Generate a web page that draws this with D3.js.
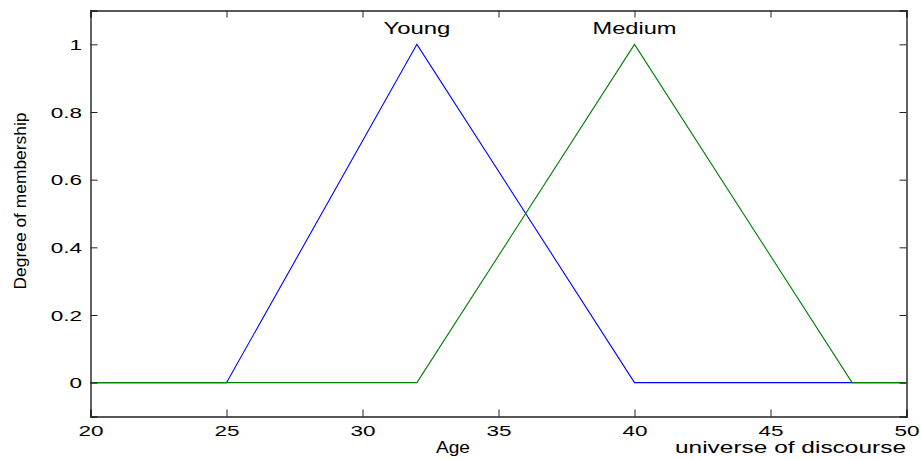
<!DOCTYPE html>
<html><head><meta charset="utf-8">
<script src="https://cdn.jsdelivr.net/npm/d3@7"></script>
<style>body{margin:0;background:#fff}svg{display:block}text{font-family:"Liberation Sans",Arial,sans-serif}</style>
</head><body><svg id="c" width="921" height="460"></svg>
<script>
const xTicks = [20,25,30,35,40,45,50];
const yTicks = [0,0.2,0.4,0.6,0.8,1];
const youngX = [20,25,32,40,50];
const youngY = [0,0,1,0,0];
const mediumX = [20,32,40,48,50];
const mediumY = [0,0,1,0,0];
const setNames = ["Young","Medium"];
const setPeaks = [32,40];

const svg = d3.select("#c");
const L=90.5,R=906.5,T=10.5,B=416.5;
const x = d3.scaleLinear().domain([20,50]).range([L,R]);
const y = d3.scaleLinear().domain([-0.1,1.1]).range([B,T]);
const SX = 1.5;

svg.append("rect").attr("x",0).attr("y",0).attr("width",921).attr("height",460).attr("fill","#fff");

const line = d3.line().x(d=>x(d[0])).y(d=>y(d[1]));
svg.append("path").datum(youngX.map((v,i)=>[v,youngY[i]])).attr("d",line).attr("fill","none").attr("stroke","#0000ff").attr("stroke-width",1.1);
svg.append("path").datum(mediumX.map((v,i)=>[v,mediumY[i]])).attr("d",line).attr("fill","none").attr("stroke","#008000").attr("stroke-width",1.1);

const fs=15;
const gB = svg.append("g").attr("transform",`translate(0,${B})`).call(d3.axisBottom(x).tickValues(xTicks).tickSize(-7).tickFormat(d3.format("d")));
const gT = svg.append("g").attr("transform",`translate(0,${T})`).call(d3.axisTop(x).tickValues(xTicks).tickSize(-7).tickFormat(""));
const gL = svg.append("g").attr("transform",`translate(${L},0)`).call(d3.axisLeft(y).tickValues(yTicks).tickSize(-7).tickFormat(d=>d===0?"0":d===1?"1":d3.format(".1f")(d)));
const gR = svg.append("g").attr("transform",`translate(${R},0)`).call(d3.axisRight(y).tickValues(yTicks).tickSize(-7).tickFormat(""));
[gB,gT,gL,gR].forEach(g=>{
  g.select(".domain").attr("stroke","#222").attr("stroke-width",1.4);
  g.selectAll(".tick line").attr("stroke","#222");
  g.selectAll("text").attr("font-size",fs).attr("fill","#000").style("font-family","Liberation Sans, Arial, sans-serif");
});
gB.selectAll(".tick text").attr("y",20).attr("dy",0).attr("transform",`scale(${SX},1)`);
gL.selectAll(".tick text").attr("x",-8.5/SX).attr("dy","0.35em").attr("transform",`scale(${SX},1)`);

function label(txt, cx, by, w, anchor){
  svg.append("text").attr("x",cx).attr("y",by).attr("text-anchor",anchor||"middle").attr("font-size",16.5)
    .attr("textLength",w).attr("lengthAdjust","spacingAndGlyphs").text(txt);
}
setNames.forEach((n,i)=>label(n, x(setPeaks[i]), 34, i===0?67:84));
label("Age", 453, 453, 34);
label("universe of discourse", 675, 453, 231, "start");
svg.append("text").attr("transform","translate(26,201) rotate(-90)").attr("text-anchor","middle").attr("font-size",16)
  .attr("textLength",177).attr("lengthAdjust","spacingAndGlyphs").text("Degree of membership");
</script></body></html>
